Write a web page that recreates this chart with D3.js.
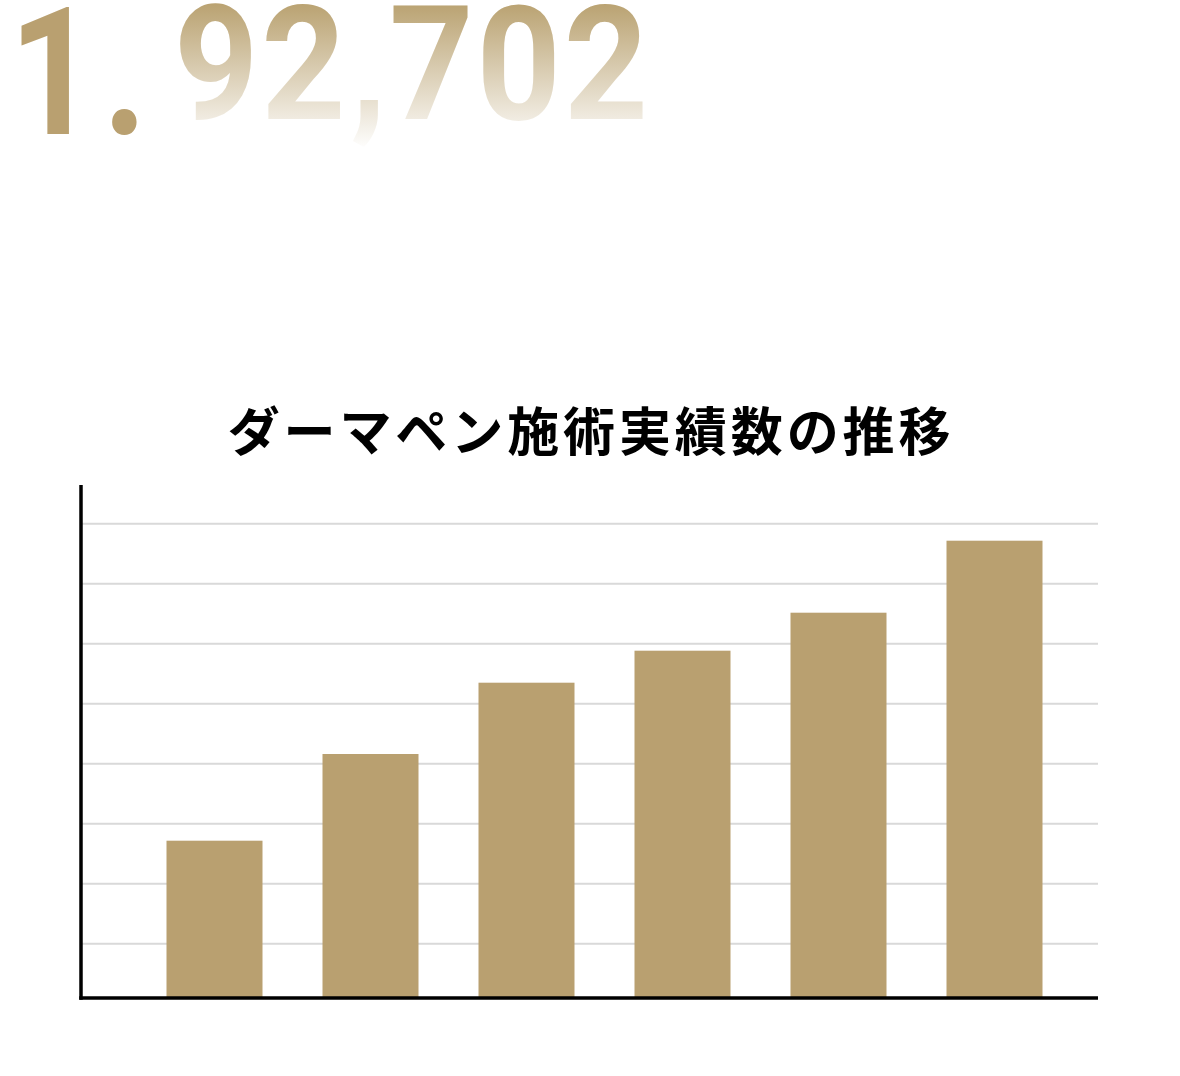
<!DOCTYPE html>
<html>
<head>
<meta charset="utf-8">
<script src="https://cdn.jsdelivr.net/npm/d3@7"></script>
<style>
  html, body { margin: 0; padding: 0; background: #ffffff; }
  svg { display: block; }
</style>
</head>
<body>
<svg id="chart" width="1180" height="1076"></svg>
<script>
// ---- data ----
const headlineLead = "1.";
const headlineRest = ["92", ",", "702"];
const chartTitle = "ダーマペン施術実績数の推移";
const categories = ["Y1", "Y2", "Y3", "Y4", "Y5", "Y6"];
const seriesValues = [15730, 24400, 31530, 34730, 38530, 45730];
const gridValues = [5430, 11430, 17430, 23430, 29430, 35430, 41430, 47430];

// ---- styles ----
const GOLD = "#b9a070";
const svg = d3.select("#chart");

const REST_BASE = 119;
const defs = svg.append("defs");
const grad = defs.append("linearGradient")
  .attr("id", "numGrad")
  .attr("gradientUnits", "userSpaceOnUse")
  .attr("x1", 0).attr("y1", 0 - REST_BASE).attr("x2", 0).attr("y2", 150 - REST_BASE);
grad.append("stop").attr("offset", "0%").attr("stop-color", "#b8a06e");
grad.append("stop").attr("offset", "100%").attr("stop-color", "#ffffff");

// ---- headline number ----
const SX = 0.92;
const lead = svg.append("text")
  .attr("transform", `translate(9,134) scale(0.86,1)`)
  .attr("font-family", "Roboto, 'Liberation Sans', sans-serif")
  .attr("font-weight", 700)
  .attr("font-size", 178)
  .attr("fill", GOLD);
lead.append("tspan").text(headlineLead[0]);
lead.append("tspan").attr("dx", 7).text(headlineLead[1]);

const rest = svg.append("text")
  .attr("transform", `translate(174,${REST_BASE}) scale(${SX},1)`)
  .attr("font-family", "Roboto, 'Liberation Sans', sans-serif")
  .attr("font-weight", 700)
  .attr("font-size", 160)
  .attr("letter-spacing", 3)
  .attr("fill", "url(#numGrad)");
rest.selectAll("tspan").data(headlineRest).join("tspan")
  .attr("dx", (d, i) => i === 1 ? 2 : 0)
  .text(d => d);

// ---- title ----
svg.append("text")
  .attr("x", 591).attr("y", 451)
  .attr("text-anchor", "middle")
  .attr("font-family", "'Noto Sans CJK JP', 'Noto Sans', sans-serif")
  .attr("font-weight", 700)
  .attr("font-size", 52)
  .attr("letter-spacing", 3.9)
  .attr("fill", "#000")
  .text(chartTitle);

// ---- chart ----
const baseY = 998;
const y = d3.scaleLinear().domain([0, 50000]).range([baseY, baseY - 500]);
const x = d3.scaleBand().domain(categories)
  .range([136.5, 1072.5]).paddingInner(0.3846).paddingOuter(0.1923);

const axisX = 81, rightX = 1098, topY = 485;

svg.append("g").selectAll("line").data(gridValues).join("line")
  .attr("x1", axisX).attr("x2", rightX)
  .attr("y1", d => y(d)).attr("y2", d => y(d))
  .attr("stroke", "#d9d9d9").attr("stroke-width", 2);

svg.append("g").selectAll("rect").data(seriesValues).join("rect")
  .attr("x", (d, i) => x(categories[i]))
  .attr("width", x.bandwidth())
  .attr("y", d => y(d))
  .attr("height", d => baseY - y(d))
  .attr("fill", GOLD);

// axes
svg.append("line")
  .attr("x1", axisX).attr("x2", axisX)
  .attr("y1", topY).attr("y2", baseY + 1.75)
  .attr("stroke", "#000").attr("stroke-width", 3.5);
svg.append("line")
  .attr("x1", axisX - 1.75).attr("x2", rightX)
  .attr("y1", baseY).attr("y2", baseY)
  .attr("stroke", "#000").attr("stroke-width", 3.5);
</script>
</body>
</html>
